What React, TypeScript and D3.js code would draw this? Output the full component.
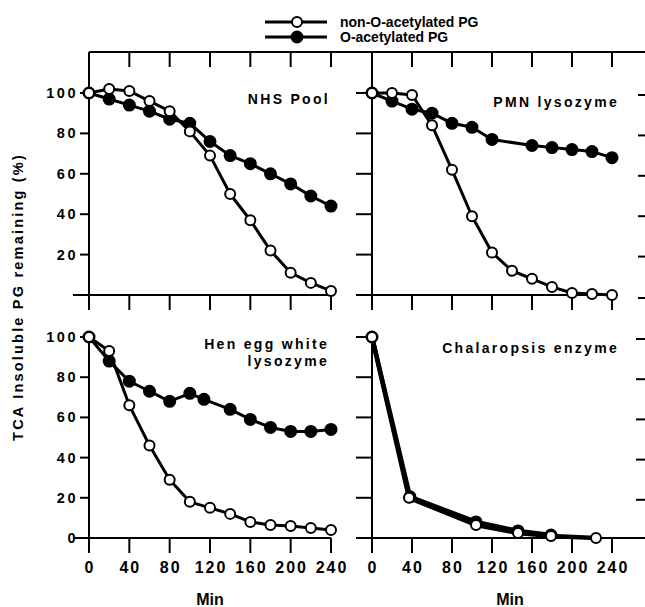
import React from "react";
import * as d3 from "d3";

// ---- Data ----
const tickMinutes = [0, 40, 80, 120, 160, 200, 240];
const yTickValues = [0, 20, 40, 60, 80, 100];

// NHS Pool
const nhsTimes = [0, 20, 40, 60, 80, 100, 120, 140, 160, 180, 200, 220, 240];
const nhsNonAc = [100, 102, 101, 96, 91, 81, 69, 50, 37, 22, 11, 6, 2];
const nhsAc = [100, 97, 94, 91, 87, 85, 76, 69, 65, 60, 55, 49, 44];

// PMN lysozyme
const pmnNonAcTimes = [0, 20, 40, 60, 80, 100, 120, 140, 160, 180, 200, 220, 240];
const pmnNonAc = [100, 100, 99, 84, 62, 39, 21, 12, 8, 4, 1, 0.5, 0];
const pmnAcTimes = [0, 20, 40, 60, 80, 100, 120, 160, 180, 200, 220, 240];
const pmnAc = [100, 96, 92, 90, 85, 83, 77, 74, 73, 72, 71, 68];

// Hen egg white lysozyme
const henNonAcTimes = [0, 20, 40, 60, 80, 100, 120, 140, 160, 180, 200, 220, 240];
const henNonAc = [100, 93, 66, 46, 29, 18, 15, 12, 8, 6.5, 6, 5, 4];
const henAcTimes = [0, 20, 40, 60, 80, 100, 114, 140, 160, 180, 200, 220, 240];
const henAc = [100, 88, 78, 73, 68, 72, 69, 64, 59, 55, 53, 53, 54];

// Chalaropsis enzyme
const chaNonAcTimes = [0, 37, 104, 146, 179, 224];
const chaNonAc = [100, 20, 6.5, 2.5, 1, 0];
const chaAcTimes = [0, 38, 104, 146, 179];
const chaAc = [100, 20.5, 8, 3.5, 1.5];

const legendLabels = ["non-O-acetylated PG", "O-acetylated PG"];

const FONT = "'Liberation Sans', Arial, Helvetica, sans-serif";

type Series = { t: number[]; v: number[]; filled: boolean };

function Panel({
  x0, x1, y0, y100, labelLines, labelX, labelY, series,
  showYLabels, showZeroLabel, showXLabels, yAxisTop, xAxisRight, lineWidth,
}: {
  x0: number; x1: number; y0: number; y100: number;
  labelLines: string[]; labelX: number; labelY: number;
  series: Series[]; showYLabels: boolean; showZeroLabel: boolean; showXLabels: boolean;
  yAxisTop: number; xAxisRight: number; lineWidth: number;
}) {
  const x = d3.scaleLinear().domain([0, 240]).range([x0, x1]);
  const y = d3.scaleLinear().domain([0, 100]).range([y0, y100]);
  const line = d3.line<[number, number]>().x((d) => x(d[0])).y((d) => y(d[1]));
  const tickLen = 16;
  return (
    <g>
      <line x1={x(0)} x2={x(0)} y1={yAxisTop} y2={y0 + 15} stroke="#000" strokeWidth={2} />
      <line x1={x(0) - tickLen} x2={xAxisRight} y1={y0} y2={y0} stroke="#000" strokeWidth={2} />
      {yTickValues.filter((v) => v > 0).map((v) => (
        <line key={"yt" + v} x1={x(0) - (showYLabels ? 9 : tickLen)} x2={x(0)} y1={y(v)} y2={y(v)} stroke="#000" strokeWidth={2} />
      ))}
      {showYLabels && yTickValues.filter((v) => v > 0 || showZeroLabel).map((v) => (
        <text key={"yl" + v} x={x(0) - 11} y={y(v) + 5} textAnchor="end" fontFamily={FONT} fontWeight="bold" fontSize={14.5} letterSpacing={2.5}>{v}</text>
      ))}
      {tickMinutes.map((m) => (
        <line key={"xt" + m} x1={x(m)} x2={x(m)} y1={y0} y2={y0 + 15} stroke="#000" strokeWidth={2} />
      ))}
      {showXLabels && tickMinutes.map((m) => (
        <text key={"xl" + m} x={x(m) + 1} y={y0 + 35} textAnchor="middle" fontFamily={FONT} fontWeight="bold" fontSize={16} letterSpacing={2}>{m}</text>
      ))}
      {labelLines.map((l, i) => (
        <text key={"lab" + i} x={labelX} y={labelY + i * 17} textAnchor="end" fontFamily={FONT} fontWeight="bold" fontSize={14} letterSpacing={2.3}>{l}</text>
      ))}
      {series.map((s, si) => (
        <path key={"p" + si} d={line(s.t.map((t, i) => [t, s.v[i]] as [number, number])) || ""} fill="none" stroke="#000" strokeWidth={lineWidth} strokeLinejoin="round" />
      ))}
      {series.map((s, si) =>
        s.t.map((t, i) => (
          <circle key={"c" + si + "_" + i} cx={x(t)} cy={y(s.v[i])} r={s.filled ? 5.5 : 5} fill={s.filled ? "#000" : "#fff"} stroke="#000" strokeWidth={2} />
        ))
      )}
    </g>
  );
}

export default function App() {
  const W = 645, H = 607;
  const topY0 = 295, topY100 = 93;
  const botY0 = 538, botY100 = 337;
  const lx0 = 89, lx1 = 331, rx0 = 372, rx1 = 612;
  const xl = d3.scaleLinear().domain([0, 240]).range([lx0, lx1]);
  const xr = d3.scaleLinear().domain([0, 240]).range([rx0, rx1]);
  const yt = d3.scaleLinear().domain([0, 100]).range([topY0, topY100]);
  const yb = d3.scaleLinear().domain([0, 100]).range([botY0, botY100]);
  return (
    <svg width={W} height={H} style={{ position: "absolute", left: 0, top: 0, background: "#fff" }}>
      <rect width={W} height={H} fill="#fff" />
      <line x1={lx0} x2={W} y1={52} y2={52} stroke="#000" strokeWidth={2} />
      {tickMinutes.map((m) => (
        <line key={"tl" + m} x1={xl(m)} x2={xl(m)} y1={52} y2={67} stroke="#000" strokeWidth={2} />
      ))}
      {tickMinutes.map((m) => (
        <line key={"tr" + m} x1={xr(m)} x2={xr(m)} y1={52} y2={67} stroke="#000" strokeWidth={2} />
      ))}
      {yTickValues.map((v) => (
        <line key={"rt" + v} x1={638} x2={W} y1={yt(v) + (v === 0 ? 3 : 2)} y2={yt(v) + (v === 0 ? 3 : 2)} stroke="#000" strokeWidth={2} />
      ))}
      {yTickValues.filter((v) => v > 0).map((v) => (
        <line key={"rb" + v} x1={636} x2={W} y1={yb(v) + 2} y2={yb(v) + 2} stroke="#000" strokeWidth={2} />
      ))}

      <Panel x0={lx0} x1={lx1} y0={topY0} y100={topY100} labelLines={["NHS Pool"]} labelX={330} labelY={104}
        series={[{ t: nhsTimes, v: nhsAc, filled: true }, { t: nhsTimes, v: nhsNonAc, filled: false }]}
        showYLabels={true} showZeroLabel={false} showXLabels={false} yAxisTop={52} xAxisRight={lx1} lineWidth={3} />
      <Panel x0={rx0} x1={rx1} y0={topY0} y100={topY100} labelLines={["PMN lysozyme"]} labelX={619} labelY={107}
        series={[{ t: pmnAcTimes, v: pmnAc, filled: true }, { t: pmnNonAcTimes, v: pmnNonAc, filled: false }]}
        showYLabels={false} showZeroLabel={false} showXLabels={false} yAxisTop={52} xAxisRight={rx1} lineWidth={3} />
      <Panel x0={lx0} x1={lx1} y0={botY0} y100={botY100} labelLines={["Hen egg white", "lysozyme"]} labelX={329} labelY={349}
        series={[{ t: henAcTimes, v: henAc, filled: true }, { t: henNonAcTimes, v: henNonAc, filled: false }]}
        showYLabels={true} showZeroLabel={true} showXLabels={true} yAxisTop={botY100 - 3} xAxisRight={lx1} lineWidth={3} />
      <Panel x0={rx0} x1={rx1} y0={botY0} y100={botY100} labelLines={["Chalaropsis enzyme"]} labelX={619} labelY={353}
        series={[{ t: chaAcTimes, v: chaAc, filled: true }, { t: chaNonAcTimes, v: chaNonAc, filled: false }]}
        showYLabels={false} showZeroLabel={false} showXLabels={true} yAxisTop={botY100 - 3} xAxisRight={W} lineWidth={4.5} />

      {legendLabels.map((l, i) => (
        <g key={"lg" + i}>
          <line x1={265} x2={327} y1={22 + i * 15} y2={22 + i * 15} stroke="#000" strokeWidth={3} />
          <circle cx={297} cy={22 + i * 15} r={i === 0 ? 5 : 5.5} fill={i === 0 ? "#fff" : "#000"} stroke="#000" strokeWidth={2} />
          <text x={340} y={27 + i * 15} fontFamily={FONT} fontWeight="bold" fontSize={14}>{l}</text>
        </g>
      ))}

      <text transform="translate(23,297) rotate(-90)" textAnchor="middle" fontFamily={FONT} fontWeight="bold" fontSize={14.5} letterSpacing={2.2}>TCA Insoluble PG remaining (%)</text>
      <text x={210} y={605} textAnchor="middle" fontFamily={FONT} fontWeight="bold" fontSize={16}>Min</text>
      <text x={510} y={605} textAnchor="middle" fontFamily={FONT} fontWeight="bold" fontSize={16}>Min</text>
    </svg>
  );
}
